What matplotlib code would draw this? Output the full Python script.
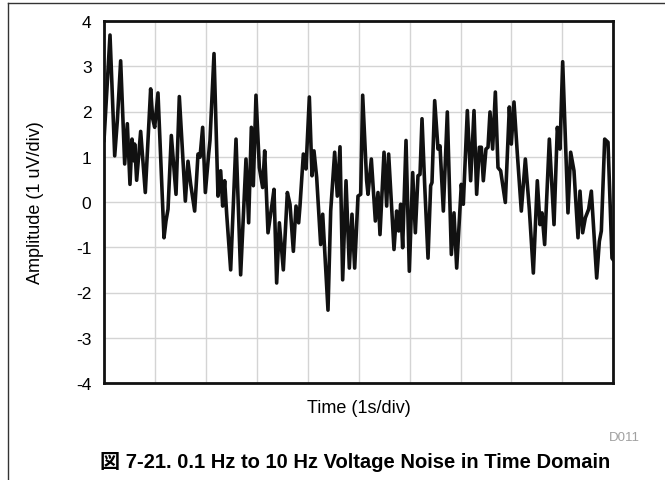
import matplotlib
matplotlib.use("Agg")
import matplotlib.pyplot as plt
from matplotlib.lines import Line2D

plt.rcParams['font.family'] = ['Liberation Sans', 'Noto Sans CJK JP', 'DejaVu Sans']

time_div = [0.0, 0.118, 0.21, 0.262, 0.327, 0.406, 0.458, 0.51, 0.55, 0.589, 0.602, 0.641, 0.72, 0.811,
            0.916, 0.956, 0.995, 1.06, 1.178, 1.217, 1.257, 1.322, 1.414, 1.479, 1.597,
            1.649, 1.702, 1.780, 1.846, 1.885, 1.937, 1.990, 2.055, 2.081, 2.160, 2.238, 2.291, 2.330,
            2.369, 2.409, 2.487, 2.592, 2.683, 2.788, 2.840, 2.893, 2.932, 2.984, 3.050, 3.115, 3.155,
            3.220, 3.299,
            3.338, 3.390, 3.443, 3.521, 3.600, 3.652, 3.718, 3.770, 3.822, 3.848, 3.914, 3.966, 4.032,
            4.084, 4.123, 4.176, 4.254, 4.294, 4.398, 4.451, 4.529, 4.581, 4.634, 4.686, 4.752, 4.817,
            4.869, 4.922, 4.987,
            5.040, 5.079, 5.157, 5.184, 5.249, 5.328, 5.380, 5.419, 5.498, 5.550, 5.589, 5.694, 5.746,
            5.786, 5.825, 5.864, 5.930, 5.995, 6.061, 6.113, 6.165, 6.205, 6.244, 6.296, 6.362, 6.414,
            6.440, 6.493, 6.558, 6.597, 6.663,
            6.741, 6.820, 6.872, 6.925, 7.016, 7.055, 7.134, 7.199, 7.265, 7.317, 7.370, 7.409, 7.448,
            7.500, 7.540, 7.579, 7.631, 7.684, 7.736, 7.788, 7.880, 7.959, 7.998, 8.050, 8.116, 8.194,
            8.273, 8.351,
            8.430, 8.508, 8.561, 8.600, 8.652, 8.744, 8.836, 8.901, 8.953, 9.006, 9.110, 9.163, 9.228,
            9.307, 9.346, 9.398, 9.451, 9.516, 9.569, 9.674, 9.726, 9.765, 9.831, 9.896, 9.974, 10.0]

amplitude = [1.36, 3.69, 1.02, 1.80, 3.12, 0.84, 1.73, 0.39, 1.39, 0.91, 1.28, 0.48, 1.56, 0.21,
             2.50, 1.84, 1.65, 2.41, -0.79, -0.42, -0.16, 1.47, 0.17, 2.33, 0.02,
             0.90, 0.39, -0.20, 1.06, 0.99, 1.65, 0.21, 1.06, 1.36, 3.28, 0.13, 0.69, -0.09,
             0.47, -0.27, -1.50, 1.39, -1.61, 0.95, -0.46, 1.65, 0.36, 2.36, 0.76, 0.32, 1.13,
             -0.68, -0.05,
             0.28, -1.79, -0.46, -1.50, 0.21, -0.05, -1.09, -0.09, -0.46, -0.09, 1.06, 0.73, 2.32,
             0.58, 1.13, 0.54, -0.94, -0.27, -2.39, -0.20, 1.10, 0.13, 1.22, -1.72, 0.47, -1.46,
             -0.27, -1.46, 0.13,
             0.17, 2.36, 0.47, 0.17, 0.95, -0.42, 0.21, -0.72, 1.10, -0.09, 1.06, -1.05, -0.20,
             -0.64, -0.05, -1.01, 1.36, -1.53, 0.65, -0.68, 0.58, 0.61, 1.84, 0.39, -1.24, 0.36,
             0.43, 2.24, 1.17, 1.24, -0.20,
             1.99, -1.16, -0.24, -1.46, 0.39, -0.05, 2.02, 0.47, 2.02, 0.17, 1.21, 1.21, 0.47,
             1.17, 1.21, 1.99, 1.17, 2.43, 0.76, 0.69, -0.01, 2.10, 1.28, 2.21, 1.06, -0.20,
             0.95, -0.16,
             -1.57, 0.47, -0.50, -0.24, -0.94, 1.39, -0.50, 1.65, 1.17, 3.10, -0.24, 1.10, 0.69,
             -0.79, 0.24, -0.68, -0.35, -0.16, 0.24, -1.68, -0.87, -0.64, 1.39, 1.32, -1.24, -1.28]

y_ticks = [-4, -3, -2, -1, 0, 1, 2, 3, 4]
x_ticks = list(range(0, 11))

fig = plt.figure(figsize=(6.65, 4.81), dpi=100)
ax = fig.add_axes([104 / 665, 1 - 384 / 481, (613.3 - 104) / 665, (384 - 22) / 481])

ax.plot(time_div, amplitude, color='#111111', lw=2.6, solid_joinstyle='round', zorder=3)

ax.set_xlim(0, 10)
ax.set_ylim(-4, 4)
ax.set_xticks(x_ticks)
ax.set_xticklabels([])
ax.set_yticks(y_ticks)
ax.set_yticklabels([str(v) for v in y_ticks])
ax.tick_params(axis='both', length=0, labelsize=12.5, pad=9)
ax.grid(True, color='#d4d4d4', lw=1.0, zorder=0)
for s in ax.spines.values():
    s.set_linewidth(2.0)
    s.set_color('#111111')

ax.set_xlabel('Time (1s/div)', fontsize=13)
ax.set_ylabel('Amplitude (1 uV/div)', fontsize=13)
ax.xaxis.set_label_coords(0.5, -0.043)
ax.yaxis.set_label_coords(-0.117, 0.5)

fig.text(640 / 665, 1 - 438 / 481, 'D011', ha='right', va='center', fontsize=9.5, color='#a0a0a0')
fig.text(355 / 665, 1 - 462 / 481, '図 7-21. 0.1 Hz to 10 Hz Voltage Noise in Time Domain',
         ha='center', va='center', fontsize=14.5, fontweight='bold',
         family=['Liberation Sans', 'Noto Sans CJK JP'])

fig.add_artist(Line2D([8 / 665, 8 / 665], [0, 1 - 4 / 481], transform=fig.transFigure,
                      color='#333333', lw=1.0))
fig.add_artist(Line2D([8 / 665, 1], [1 - 4 / 481, 1 - 4 / 481], transform=fig.transFigure,
                      color='#333333', lw=1.0))

fig.savefig('out.png', dpi=100)
